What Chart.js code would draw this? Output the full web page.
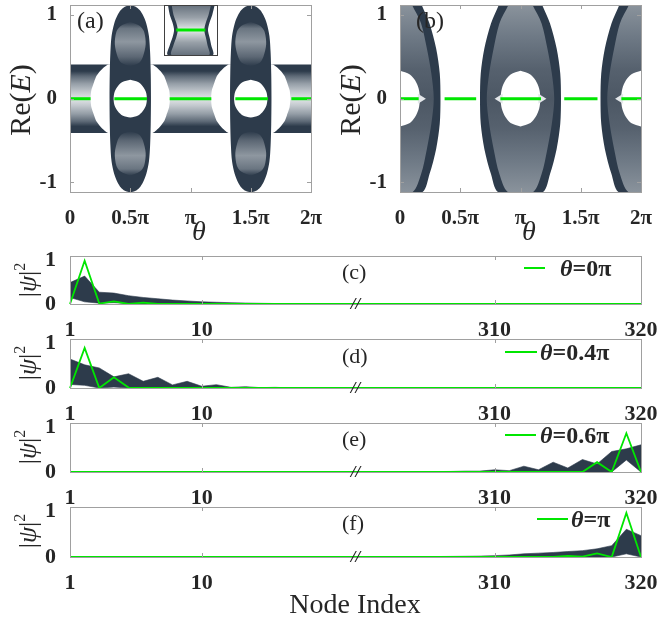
<!DOCTYPE html>
<html>
<head>
<meta charset="utf-8">
<script src="https://cdn.jsdelivr.net/npm/chart.js@4.4.0/dist/chart.umd.min.js"></script>
<style>
  body { margin: 0; background: #fff; width: 661px; height: 625px; position: relative; overflow: hidden; font-family: "Liberation Serif", "Times New Roman", serif; }
  canvas { position: absolute; left: 0; top: 0; }
  .t { position: absolute; white-space: nowrap; color: #262626; line-height: 1; }
  .c { transform: translate(-50%, -50%); }
  .r { transform: translate(-50%, -50%) rotate(-90deg); }
  .v { transform: translateY(-50%); }
  .lg { position: absolute; height: 2px; background: #00e600; }
</style>
</head>
<body>
<canvas id="pa" width="661" height="625"></canvas>
<canvas id="pb" width="661" height="625"></canvas>
<canvas id="pin" width="661" height="625"></canvas>
<canvas id="pc" width="661" height="625"></canvas>
<canvas id="pd" width="661" height="625"></canvas>
<canvas id="pe" width="661" height="625"></canvas>
<canvas id="pf" width="661" height="625"></canvas>

<div class="t" style="left:77px;top:8px;font-size:24px">(a)</div>
<div class="t" style="left:416px;top:8px;font-size:24px">(b)</div>
<div class="t r" style="left:20px;top:100px;font-size:30px">Re(<i>E</i>)</div>
<div class="t r" style="left:350px;top:100px;font-size:30px">Re(<i>E</i>)</div>
<div class="t c" style="left:199px;top:231px;font-size:28px"><i>θ</i></div>
<div class="t c" style="left:529px;top:231px;font-size:28px"><i>θ</i></div>

<div class="t r" style="left:28px;top:280px;font-size:26px">|<i>ψ</i>|<span style="font-size:16px;position:relative;top:-11px">2</span></div>
<div class="t r" style="left:28px;top:363px;font-size:26px">|<i>ψ</i>|<span style="font-size:16px;position:relative;top:-11px">2</span></div>
<div class="t r" style="left:28px;top:447px;font-size:26px">|<i>ψ</i>|<span style="font-size:16px;position:relative;top:-11px">2</span></div>
<div class="t r" style="left:28px;top:531px;font-size:26px">|<i>ψ</i>|<span style="font-size:16px;position:relative;top:-11px">2</span></div>

<div class="t v" style="left:342px;top:272px;font-size:22px">(c)</div>
<div class="t v" style="left:342px;top:356px;font-size:22px">(d)</div>
<div class="t v" style="left:342px;top:439px;font-size:22px">(e)</div>
<div class="t v" style="left:342px;top:523px;font-size:22px">(f)</div>

<div class="lg" style="left:524px;top:267px;width:21px"></div>
<div class="t v" style="left:560px;top:268px;font-size:24px;font-weight:bold"><i>θ</i>=0π</div>
<div class="lg" style="left:505px;top:351px;width:32px"></div>
<div class="t v" style="left:540px;top:352px;font-size:24px;font-weight:bold"><i>θ</i>=0.4π</div>
<div class="lg" style="left:505px;top:434px;width:31px"></div>
<div class="t v" style="left:540px;top:435px;font-size:24px;font-weight:bold"><i>θ</i>=0.6π</div>
<div class="lg" style="left:537px;top:518px;width:31px"></div>
<div class="t v" style="left:571px;top:519px;font-size:24px;font-weight:bold"><i>θ</i>=π</div>

<div class="t c" style="left:355px;top:604px;font-size:28px">Node Index</div>

<script>
const W = 661, H = 625;
const DARK = '#2d3b4b';
const GREEN = '#00e600';
const SERIF = '"Liberation Serif", "Times New Roman", serif';
const TICK_COL = '#262626';
const FRAME_COL = '#a0a0a0';

// ---- panels (a) and (b): theta in units of pi ----
const thetaTicks = [0, 0.5, 1, 1.5, 2];
const thetaLabels = ['0', '0.5π', 'π', '1.5π', '2π'];
const reTicks = [-1, 0, 1];
const reRange = [-1.115, 1.12];

// (a) flat band + two ellipses (0.5π, 1.5π)
const bandOuterA = 0.41;
const bandInnerA = 0.33;
const ellCentersA = [0.5, 1.5];
const ellYA  = [0, 0.3, 0.55, 0.75, 0.9, 1.0, 1.06, 1.1, 1.12];
const ellHwA = [0.172, 0.17, 0.165, 0.155, 0.133, 0.105, 0.078, 0.045, 0];
const lobeYA  = [0.39, 0.43, 0.5, 0.65, 0.8, 0.87, 0.92];
const lobeHwA = [0, 0.075, 0.105, 0.128, 0.115, 0.08, 0];
const holeYA  = [0, 0.08, 0.15, 0.2, 0.226];
const holeHwA = [0.138, 0.13, 0.103, 0.065, 0];
// white gaps between band and ellipse (distance from ellipse centre)
const gapYA = [0, 0.1, 0.2, 0.27, 0.33, 0.38, 0.41];
const gapDA = [0.329, 0.323, 0.3, 0.281, 0.25, 0.215, 0.185];
const greenA = [[0, 0.171], [0.368, 0.639], [0.827, 1.173], [1.372, 1.643], [1.837, 2]];

// (b) lenses at 0, π, 2π
const lensCentersB = [0, 1, 2];
const lensYB  = [0, 0.3, 0.6, 0.9, 1.12];
const lensHwB = [0.336, 0.33, 0.3, 0.245, 0.18];
const coreHwB = [0.28, 0.26, 0.223, 0.175, 0.1];
const holeYB  = [0, 0.12, 0.22, 0.29, 0.333];
const holeHwB = [0.165, 0.155, 0.125, 0.082, 0];
const cuspB = 0.05;
const greenB = [[0, 0.155], [0.37, 0.632], [0.833, 1.17], [1.363, 1.639], [1.837, 2]];

// inset of (a)
const insetY = [1, 0.6, 0.3, 0, -0.3, -0.6, -1];
const insetL = [0.075, 0.11, 0.16, 0.19, 0.16, 0.11, 0.075];
const insetR = [0.956, 0.91, 0.86, 0.83, 0.86, 0.89, 0.92];
const insetGreen = [0.23, 0.78];

// ---- panels (c)-(f) ----
const nodeIdx = [1, 2, 3, 4, 5, 6, 7, 8, 9, 10, 11, 12, 13, 14, 15, 16, 17, 18, 19, 20,
                 301, 302, 303, 304, 305, 306, 307, 308, 309, 310, 311, 312, 313, 314, 315, 316, 317, 318, 319, 320];
const nodeTicks = [1, 10, 310, 320];
const psiTicks = [0, 1];

const upperC = [0.49, 0.64, 0.27, 0.25, 0.19, 0.15, 0.12, 0.09, 0.07, 0.05, 0.04, 0.03, 0.022, 0.016, 0.011, 0.008, 0.005, 0.003, 0.002, 0.001,
                0, 0, 0, 0, 0, 0, 0, 0, 0, 0, 0, 0, 0, 0, 0, 0, 0, 0, 0, 0];
const lowerC = [0.15, 0.05, 0.02, 0.03, 0.01, 0, 0, 0, 0, 0, 0, 0, 0, 0, 0, 0, 0, 0, 0, 0,
                0, 0, 0, 0, 0, 0, 0, 0, 0, 0, 0, 0, 0, 0, 0, 0, 0, 0, 0, 0];
const greenC = [0, 0.99, 0.01, 0.06, 0, 0.03, 0, 0, 0, 0, 0, 0, 0, 0, 0, 0, 0, 0, 0, 0,
                0, 0, 0, 0, 0, 0, 0, 0, 0, 0, 0, 0, 0, 0, 0, 0, 0, 0, 0, 0];

const upperD = [0.65, 0.52, 0.45, 0.25, 0.32, 0.15, 0.24, 0.07, 0.15, 0.04, 0.075, 0.015, 0.03, 0.008, 0.015, 0.004, 0.007, 0.002, 0.003, 0.001,
                0, 0, 0, 0, 0, 0, 0, 0, 0, 0, 0, 0, 0, 0, 0, 0, 0, 0, 0, 0];
const lowerD = [0.08, 0.06, 0, 0.02, 0, 0, 0, 0, 0, 0, 0, 0, 0, 0, 0, 0, 0, 0, 0, 0,
                0, 0, 0, 0, 0, 0, 0, 0, 0, 0, 0, 0, 0, 0, 0, 0, 0, 0, 0, 0];
const greenD = [0, 0.9, 0, 0.24, 0.01, 0, 0, 0, 0, 0, 0, 0, 0, 0, 0, 0, 0, 0, 0, 0,
                0, 0, 0, 0, 0, 0, 0, 0, 0, 0, 0, 0, 0, 0, 0, 0, 0, 0, 0, 0];

const upperE = [0, 0, 0, 0, 0, 0, 0, 0, 0, 0, 0, 0, 0, 0, 0, 0, 0, 0, 0, 0,
                0, 0, 0.002, 0.004, 0.006, 0.01, 0.012, 0.02, 0.02, 0.05, 0.03, 0.13, 0.05, 0.22, 0.09, 0.28, 0.18, 0.46, 0.52, 0.61];
const lowerE = [0, 0, 0, 0, 0, 0, 0, 0, 0, 0, 0, 0, 0, 0, 0, 0, 0, 0, 0, 0,
                0, 0, 0, 0, 0, 0, 0, 0, 0, 0, 0, 0, 0, 0, 0, 0, 0, 0, 0.27, 0];
const greenE = [0, 0, 0, 0, 0, 0, 0, 0, 0, 0, 0, 0, 0, 0, 0, 0, 0, 0, 0, 0,
                0, 0, 0, 0, 0, 0, 0, 0, 0, 0, 0, 0, 0, 0, 0, 0, 0.22, 0, 0.87, 0];

const upperF = [0, 0, 0, 0, 0, 0, 0, 0, 0, 0, 0, 0, 0, 0, 0, 0, 0, 0, 0, 0,
                0.002, 0.003, 0.004, 0.006, 0.008, 0.01, 0.013, 0.016, 0.02, 0.03, 0.045, 0.07, 0.085, 0.1, 0.12, 0.14, 0.18, 0.25, 0.61, 0.47];
const lowerF = [0, 0, 0, 0, 0, 0, 0, 0, 0, 0, 0, 0, 0, 0, 0, 0, 0, 0, 0, 0,
                0, 0, 0, 0, 0, 0, 0, 0, 0, 0, 0, 0, 0, 0, 0, 0, 0, 0, 0.07, 0];
const greenF = [0, 0, 0, 0, 0, 0, 0, 0, 0, 0, 0, 0, 0, 0, 0, 0, 0, 0, 0, 0,
                0, 0, 0, 0, 0, 0, 0, 0, 0, 0, 0, 0, 0, 0, 0.025, 0.01, 0.08, 0, 0.97, 0];

// ---------- helpers ----------
const tickFontTop = { family: SERIF, size: 21, weight: 'bold' };
const tickFontBot = { family: SERIF, size: 22, weight: 'bold' };
const YW = 70, XH = 45;   // room kept for tick labels (labels are clipped to the scale box)

function placeArea(a) {   // a = [left, top, right, bottom] of the plot box in page px
  return { padding: { left: a[0] - YW, top: a[1], right: W - a[2], bottom: H - a[3] - XH } };
}
const fitY = s => { s.width = YW; s.paddingTop = 0; s.paddingBottom = 0; s.paddingLeft = 0; s.paddingRight = 0; };
const fitX = s => { s.height = XH; s.paddingLeft = 0; s.paddingRight = 0; s.paddingTop = 0; s.paddingBottom = 0; };

// vertical gradient from [value, colour] stops
function vGrad(stops) {
  return ctx => {
    const ch = ctx.chart, y = ch.scales.y;
    if (!ch.chartArea || !y) return stops[0][1];
    const p0 = y.getPixelForValue(stops[0][0]);
    const p1 = y.getPixelForValue(stops[stops.length - 1][0]);
    const g = ch.ctx.createLinearGradient(0, p0, 0, p1);
    stops.forEach(([v, c]) => g.addColorStop(Math.min(1, Math.max(0, (y.getPixelForValue(v) - p0) / (p1 - p0))), c));
    return g;
  };
}

// closed outline symmetric about (cx, 0) from a half-width profile
function symOutline(cx, ys, hws) {
  const pts = [];
  for (let i = ys.length - 1; i >= 0; i--) pts.push({ x: cx + hws[i], y: ys[i] });
  for (let i = 1; i < ys.length; i++) pts.push({ x: cx + hws[i], y: -ys[i] });
  for (let i = ys.length - 1; i >= 0; i--) pts.push({ x: cx - hws[i], y: -ys[i] });
  for (let i = 1; i < ys.length; i++) pts.push({ x: cx - hws[i], y: ys[i] });
  return pts;
}
// closed lobe between two heights (sign = +1 upper, -1 lower)
function lobeOutline(cx, ys, hws, sign) {
  const pts = [];
  for (let i = 0; i < ys.length; i++) pts.push({ x: cx + hws[i], y: sign * ys[i] });
  for (let i = ys.length - 1; i >= 0; i--) pts.push({ x: cx - hws[i], y: sign * ys[i] });
  return pts;
}

function poly(points, color, tension) {
  return { data: points, showLine: true, fill: 'shape', backgroundColor: color,
           borderColor: 'rgba(0,0,0,0)', borderWidth: 0, pointRadius: 0, pointHoverRadius: 0,
           tension: tension === undefined ? 0.3 : tension };
}
function seg(x0, x1, y, color, width) {
  return { data: [{ x: x0, y: y }, { x: x1, y: y }], showLine: true, fill: false,
           borderColor: color, borderWidth: width, pointRadius: 0, pointHoverRadius: 0 };
}

const framePlugin = {
  id: 'frame',
  afterDatasetsDraw(chart, args, o) {
    const { ctx, chartArea: a, scales } = chart;
    const x = scales.x, y = scales.y;
    ctx.save();
    ctx.strokeStyle = o.color || FRAME_COL;
    ctx.lineWidth = 1;
    ctx.beginPath();
    (o.xt || []).forEach(v => {
      const px = Math.round(x.getPixelForValue(v)) + 0.5;
      ctx.moveTo(px, a.bottom); ctx.lineTo(px, a.bottom - 4);
      ctx.moveTo(px, a.top); ctx.lineTo(px, a.top + 4);
    });
    (o.yt || []).forEach(v => {
      const py = Math.round(y.getPixelForValue(v)) + 0.5;
      ctx.moveTo(a.left, py); ctx.lineTo(a.left + 4, py);
      ctx.moveTo(a.right, py); ctx.lineTo(a.right - 4, py);
    });
    ctx.stroke();
    ctx.strokeRect(Math.round(a.left) + 0.5, Math.round(a.top) + 0.5, Math.round(a.width), Math.round(a.height));
    if (o.brk !== undefined) {
      const bx = (x.getPixelForValue(o.brk) + x.getPixelForValue(o.brk + 1)) / 2;
      ctx.fillStyle = '#222';
      ctx.font = 'italic bold 17px ' + SERIF;
      ctx.textAlign = 'center';
      ctx.textBaseline = 'middle';
      ctx.fillText('//', bx, a.bottom + 1);
    }
    ctx.restore();
  }
};

function topChart(id, area, datasets) {
  datasets.forEach((d, i) => { d.order = datasets.length - i; });
  return new Chart(document.getElementById(id), {
    type: 'scatter',
    data: { datasets: datasets },
    options: {
      responsive: false, animation: false, events: [],
      layout: placeArea(area),
      plugins: { legend: { display: false }, tooltip: { enabled: false }, frame: { xt: thetaTicks, yt: reTicks } },
      scales: {
        x: {
          type: 'linear', min: 0, max: 2,
          afterBuildTicks: s => { s.ticks = thetaTicks.map(v => ({ value: v })); },
          afterFit: fitX,
          grid: { display: false }, border: { display: false },
          ticks: { callback: v => thetaLabels[thetaTicks.indexOf(v)], font: tickFontTop, color: TICK_COL,
                   padding: 6, maxRotation: 0, autoSkip: false }
        },
        y: {
          type: 'linear', min: reRange[0], max: reRange[1],
          afterBuildTicks: s => { s.ticks = reTicks.map(v => ({ value: v })); },
          afterFit: fitY,
          grid: { display: false }, border: { display: false },
          ticks: { callback: v => String(v), font: tickFontTop, color: TICK_COL, padding: 5 }
        }
      }
    },
    plugins: [framePlugin]
  });
}

// ---------- panel (a) ----------
const dsA = [];
dsA.push(poly([{ x: 0, y: bandOuterA }, { x: 2, y: bandOuterA }, { x: 2, y: -bandOuterA }, { x: 0, y: -bandOuterA }], DARK, 0));
dsA.push(poly([{ x: 0, y: bandInnerA }, { x: 2, y: bandInnerA }, { x: 2, y: -bandInnerA }, { x: 0, y: -bandInnerA }],
  vGrad([[bandInnerA, DARK], [0.27, '#5e6a77'], [0.18, '#959ea7'], [0.08, '#c3c9ce'], [0, '#e2e5e8'],
         [-0.08, '#c3c9ce'], [-0.18, '#959ea7'], [-0.27, '#5e6a77'], [-bandInnerA, DARK]]), 0));
ellCentersA.forEach(c => {
  [-1, 1].forEach(s => {
    const pts = [];
    for (let i = gapYA.length - 1; i >= 0; i--) pts.push({ x: c + s * gapDA[i], y: gapYA[i] });
    for (let i = 1; i < gapYA.length; i++) pts.push({ x: c + s * gapDA[i], y: -gapYA[i] });
    pts.push({ x: c + s * 0.12, y: -bandOuterA - 0.01 });
    pts.push({ x: c + s * 0.12, y: bandOuterA + 0.01 });
    dsA.push(poly(pts, '#ffffff', 0.2));
  });
});
ellCentersA.forEach(c => {
  dsA.push(poly(symOutline(c, ellYA, ellHwA), DARK));
  dsA.push(poly(lobeOutline(c, lobeYA, lobeHwA, 1),
    vGrad([[0.92, DARK], [0.84, '#6a7581'], [0.68, '#8e97a0'], [0.5, '#5c6774'], [0.39, DARK]])));
  dsA.push(poly(lobeOutline(c, lobeYA, lobeHwA, -1),
    vGrad([[-0.39, DARK], [-0.5, '#5c6774'], [-0.68, '#8e97a0'], [-0.84, '#6a7581'], [-0.92, DARK]])));
  dsA.push(poly(symOutline(c, holeYA, holeHwA), '#ffffff'));
});
greenA.forEach(g => dsA.push(seg(g[0], g[1], 0, GREEN, 3)));
topChart('pa', [70, 5, 311, 192], dsA);

// ---------- panel (b) ----------
const dsB = [];
lensCentersB.forEach(c => {
  dsB.push(poly(symOutline(c, lensYB, lensHwB), DARK));
  dsB.push(poly(symOutline(c, lensYB, coreHwB),
    vGrad([[1.12, '#8a939c'], [0.75, '#6f7a86'], [0.35, '#56616e'], [0, '#4c5764'],
           [-0.35, '#56616e'], [-0.75, '#6f7a86'], [-1.12, '#8a939c']])));
  dsB.push(poly(symOutline(c, holeYB, holeHwB), '#ffffff'));
  [-1, 1].forEach(s => {
    dsB.push(poly([{ x: c + s * holeHwB[0] * 0.9, y: 0.06 }, { x: c + s * (holeHwB[0] + cuspB), y: 0 },
                   { x: c + s * holeHwB[0] * 0.9, y: -0.06 }], '#e4e7ea', 0));
  });
});
greenB.forEach(g => dsB.push(seg(g[0], g[1], 0, GREEN, 3)));
topChart('pb', [400, 5, 641, 192], dsB);

// ---------- inset ----------
(function () {
  const outer = [], inner = [];
  insetY.forEach((y, i) => { outer.push({ x: insetL[i], y: y }); inner.push({ x: insetL[i] + 0.07, y: y }); });
  for (let i = insetY.length - 1; i >= 0; i--) { outer.push({ x: insetR[i], y: insetY[i] }); inner.push({ x: insetR[i] - 0.07, y: insetY[i] }); }
  const ds = [
    poly(outer, DARK),
    poly(inner, vGrad([[1, '#66717d'], [0.5, '#98a0a8'], [0.15, '#cdd2d6'], [0, '#eceef0'],
                       [-0.15, '#cdd2d6'], [-0.5, '#98a0a8'], [-1, '#66717d']])),
    seg(insetGreen[0], insetGreen[1], 0, GREEN, 3)
  ];
  ds.forEach((d, i) => { d.order = ds.length - i; });
  new Chart(document.getElementById('pin'), {
    type: 'scatter',
    data: { datasets: ds },
    options: {
      responsive: false, animation: false, events: [],
      layout: { padding: { left: 164, top: 5, right: W - 217, bottom: H - 55 } },
      plugins: { legend: { display: false }, tooltip: { enabled: false }, frame: { color: '#404040' } },
      scales: { x: { type: 'linear', min: 0, max: 1, display: false }, y: { type: 'linear', min: -1, max: 1, display: false } }
    },
    plugins: [framePlugin]
  });
})();

// ---------- panels (c)-(f) ----------
function nodeChart(id, area, upper, lower, green) {
  new Chart(document.getElementById(id), {
    type: 'line',
    data: {
      labels: nodeIdx.map(String),
      datasets: [
        { data: green, borderColor: GREEN, borderWidth: 1.8, pointRadius: 0, fill: false, order: 0, tension: 0 },
        { data: upper, borderColor: DARK, borderWidth: 0.6, backgroundColor: DARK, fill: 2, pointRadius: 0, order: 1, tension: 0 },
        { data: lower, borderColor: DARK, borderWidth: 0.6, pointRadius: 0, fill: false, order: 2, tension: 0 }
      ]
    },
    options: {
      responsive: false, animation: false, events: [],
      layout: placeArea(area),
      plugins: {
        legend: { display: false }, tooltip: { enabled: false },
        frame: { xt: [nodeIdx.indexOf(10), nodeIdx.indexOf(310)], brk: nodeIdx.indexOf(20) }
      },
      scales: {
        x: {
          type: 'category', offset: false, afterFit: fitX,
          grid: { display: false }, border: { display: false },
          ticks: { callback: (v, i) => nodeTicks.includes(nodeIdx[i]) ? String(nodeIdx[i]) : '',
                   font: tickFontBot, color: TICK_COL, padding: 5, maxRotation: 0, autoSkip: false }
        },
        y: {
          type: 'linear', min: 0, max: 1.1,
          afterBuildTicks: s => { s.ticks = psiTicks.map(v => ({ value: v })); },
          afterFit: fitY,
          grid: { display: false }, border: { display: false },
          ticks: { callback: v => String(v), font: tickFontBot, color: TICK_COL, padding: 6 }
        }
      }
    },
    plugins: [framePlugin]
  });
}
nodeChart('pc', [70, 256, 641, 304], upperC, lowerC, greenC);
nodeChart('pd', [70, 339, 641, 388], upperD, lowerD, greenD);
nodeChart('pe', [70, 423, 641, 472], upperE, lowerE, greenE);
nodeChart('pf', [70, 507, 641, 557], upperF, lowerF, greenF);
</script>
</body>
</html>
